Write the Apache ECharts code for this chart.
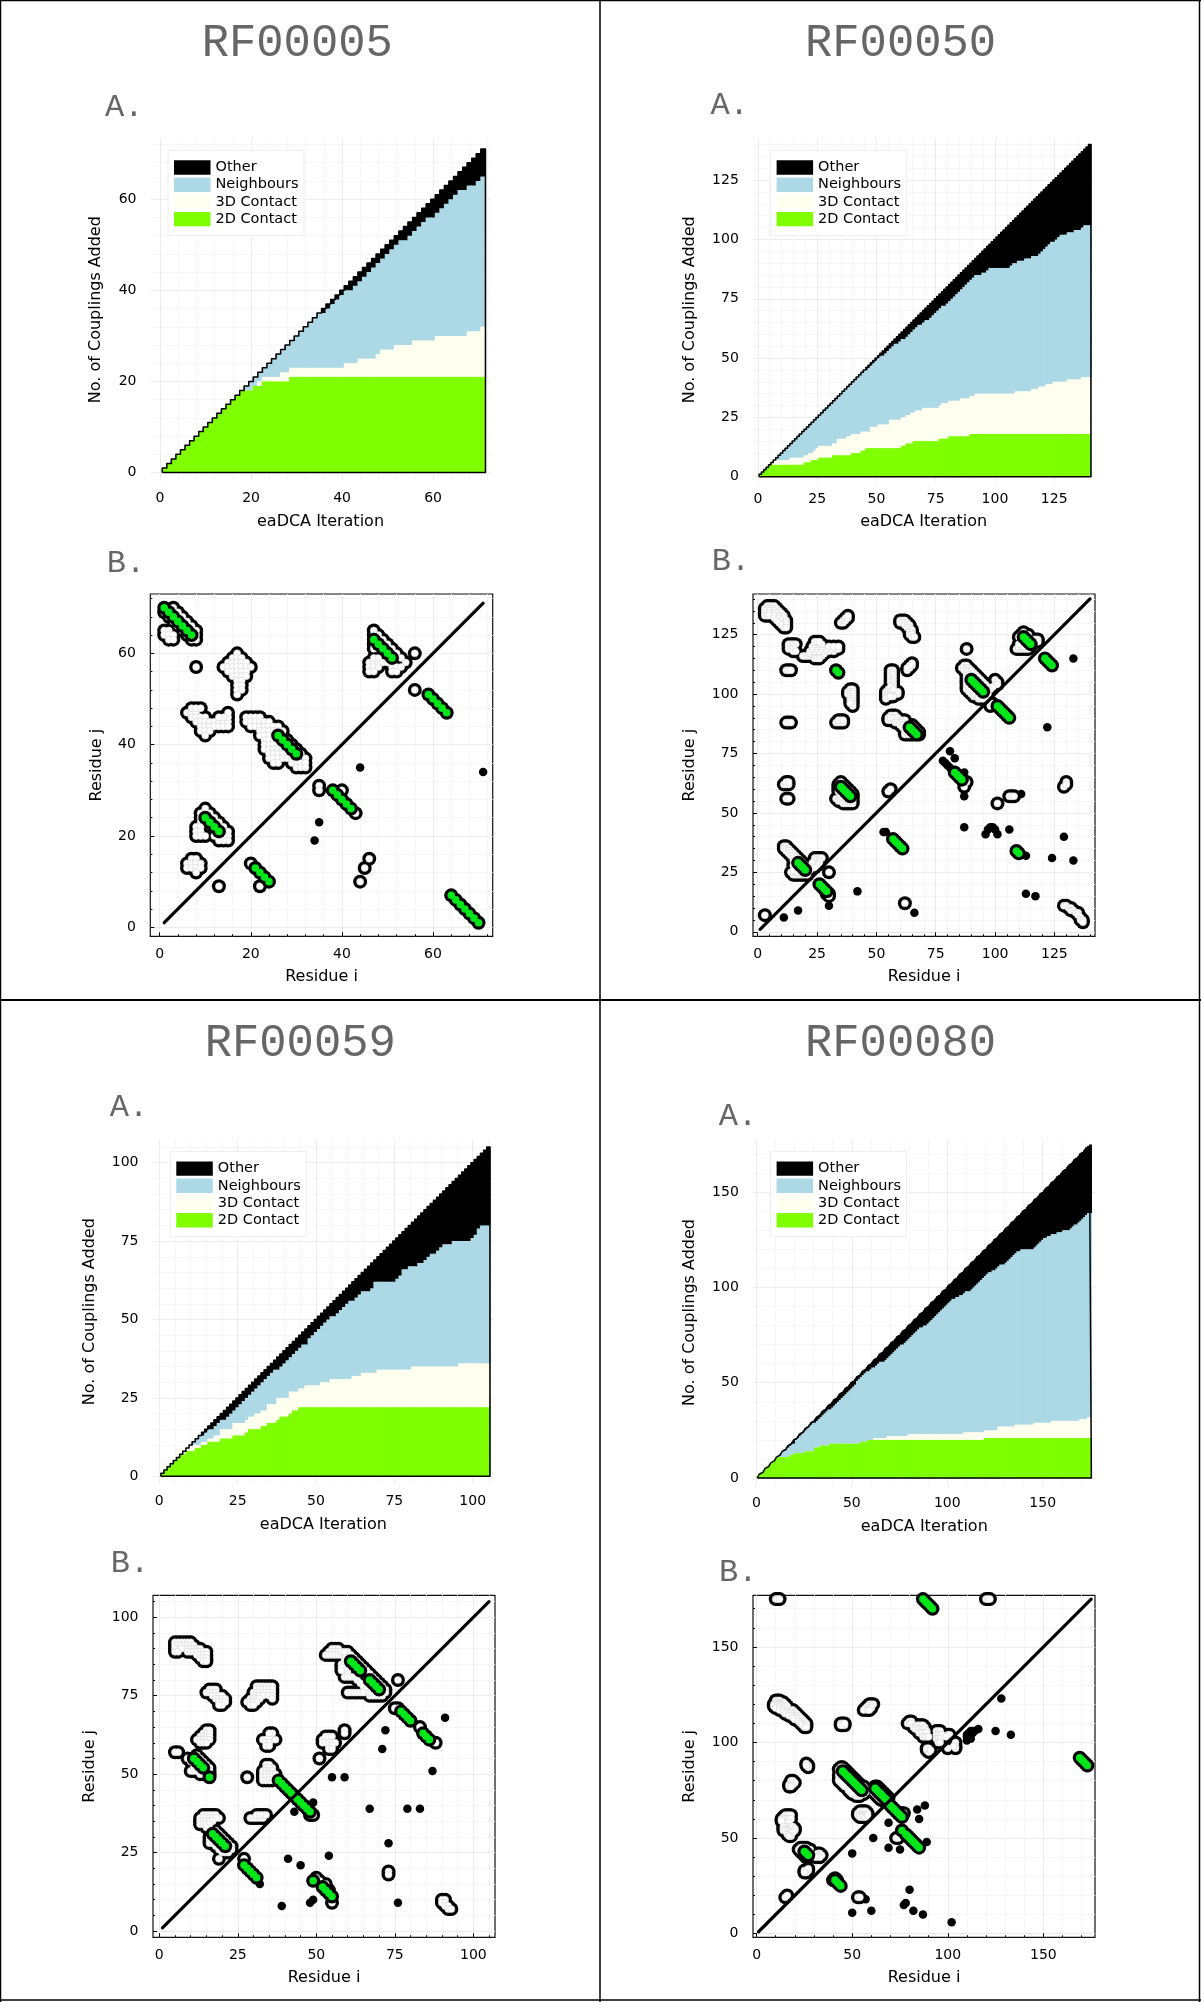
<!DOCTYPE html>
<html><head><meta charset="utf-8">
<style>html,body{margin:0;padding:0;background:#fff}#c{width:1201px;height:2002px}</style>
<script src="https://cdn.jsdelivr.net/npm/echarts@6/dist/echarts.min.js"></script>
</head><body><div id="c"></div>
<script>
// ---------- Panel A: top of each band after every iteration ----------
const rf5Total=[1,2,3,4,5,6,7,8,9,10,11,12,13,14,15,16,17,18,19,20,21,22,23,24,25,26,27,28,29,30,31,32,33,34,35,36,37,38,39,40,41,42,43,44,45,46,47,48,49,50,51,52,53,54,55,56,57,58,59,60,61,62,63,64,65,66,67,68,69,70,71];
const rf5Top2D=[1,2,3,4,5,6,7,8,9,10,11,12,13,14,15,16,17,18,18,18,19,19,20,20,20,20,20,20,21,21,21,21,21,21,21,21,21,21,21,21,21,21,21,21,21,21,21,21,21,21,21,21,21,21,21,21,21,21,21,21,21,21,21,21,21,21,21,21,21,21,21];
const rf5Top3D=[1,2,3,4,5,6,7,8,9,10,11,12,13,14,15,16,17,18,18,18,19,20,21,21,21,21,22,22,23,23,23,23,23,23,23,23,23,23,23,23,24,24,24,25,25,25,25,26,27,27,27,28,28,28,28,29,29,29,29,29,30,30,30,30,30,30,30,31,31,31,32];
const rf5TopNb=[1,2,3,4,5,6,7,8,9,10,11,12,13,14,15,16,17,18,19,20,21,22,23,24,25,26,27,28,29,30,31,32,33,34,35,35,36,37,38,39,40,40,41,42,43,44,45,46,47,48,49,50,51,51,52,53,54,55,56,56,57,58,59,60,61,62,62,63,63,64,65];

const rf50Total=[1,2,3,4,5,6,7,8,9,10,11,12,13,14,15,16,17,18,19,20,21,22,23,24,25,26,27,28,29,30,31,32,33,34,35,36,37,38,39,40,41,42,43,44,45,46,47,48,49,50,51,52,53,54,55,56,57,58,59,60,61,62,63,64,65,66,67,68,69,70,71,72,73,74,75,76,77,78,79,80,81,82,83,84,85,86,87,88,89,90,91,92,93,94,95,96,97,98,99,100,101,102,103,104,105,106,107,108,109,110,111,112,113,114,115,116,117,118,119,120,121,122,123,124,125,126,127,128,129,130,131,132,133,134,135,136,137,138,139,140];
const rf50Top2D=[1,2,3,4,5,5,5,5,5,5,
5,5,5,5,5,5,5,5,5,6,
6,6,7,7,7,8,8,8,8,8,
8,9,9,9,9,9,9,9,9,10,
10,10,10,11,11,12,12,12,12,12,
12,12,12,12,12,12,12,12,12,12,
13,13,14,14,14,15,15,15,15,15,
15,15,15,15,15,15,16,16,16,16,
17,17,17,17,17,17,17,17,17,18,
18,18,18,18,18,18,18,18,18,18,
18,18,18,18,18,18,18,18,18,18,
18,18,18,18,18,18,18,18,18,18,
18,18,18,18,18,18,18,18,18,18,
18,18,18,18,18,18,18,18,18,18];
const rf50Top3D=[1,2,3,4,5,6,7,7,7,7,
7,7,7,8,8,8,8,8,8,9,
9,10,10,11,12,13,13,13,13,13,
13,14,14,16,16,16,16,17,17,18,
18,18,18,19,19,19,19,21,21,21,
22,22,22,22,22,24,24,24,24,24,
25,25,26,26,27,27,28,28,28,29,
29,29,29,29,29,29,30,31,31,31,
32,32,32,32,32,33,33,33,33,34,
34,35,35,35,35,35,35,35,35,35,
35,35,35,35,35,35,35,35,36,36,
36,36,36,36,36,37,37,37,38,38,
38,39,39,39,40,40,40,40,40,40,
41,41,41,41,41,41,42,42,42,42];
const rf50TopNb=[1,2,3,4,5,6,7,8,9,10,11,12,13,14,15,16,17,18,19,20,21,22,23,24,25,26,27,28,29,30,31,32,33,34,35,36,37,38,39,40,41,42,43,44,45,
45,46,47,48,49,50,51,51,52,53,54,55,56,56,57,58,58,59,60,61,62,63,64,64,65,66,66,67,68,69,70,71,72,72,73,74,75,76,77,78,79,80,81,82,83,84,85,85,85,86,86,87,88,88,88,88,88,88,88,88,88,89,90,90,91,91,91,92,92,92,93,93,93,94,95,96,97,98,99,99,100,101,102,102,102,103,103,103,104,104,104,105,106,106,106];

const rf59Total=[1,2,3,4,5,6,7,8,9,10,11,12,13,14,15,16,17,18,19,20,21,22,23,24,25,26,27,28,29,30,31,32,33,34,35,36,37,38,39,40,41,42,43,44,45,46,47,48,49,50,51,52,53,54,55,56,57,58,59,60,61,62,63,64,65,66,67,68,69,70,71,72,73,74,75,76,77,78,79,80,81,82,83,84,85,86,87,88,89,90,91,92,93,94,95,96,97,98,99,100,101,102,103,104,105];
const rf59Top2D=[1,2,3,4,5,6,7,7,8,8,
8,9,9,10,10,11,11,11,11,12,
12,12,12,13,13,13,13,14,15,15,
15,15,16,16,17,17,17,18,19,19,
19,20,21,21,22,22,22,22,22,22,
22,22,22,22,22,22,22,22,22,22,
22,22,22,22,22,22,22,22,22,22,
22,22,22,22,22,22,22,22,22,22,
22,22,22,22,22,22,22,22,22,22,
22,22,22,22,22,22,22,22,22,22,
22,22,22,22,22];
const rf59Top3D=[1,2,3,4,5,6,7,8,9,10,
10,10,10,11,11,12,12,13,13,15,
15,15,15,17,17,17,17,18,19,19,
20,20,21,21,23,23,23,25,25,25,
25,27,27,27,28,28,29,29,29,29,
29,30,30,30,31,31,31,31,31,31,
31,32,32,32,33,33,33,33,33,34,
34,34,34,34,34,34,34,34,34,34,
35,35,35,35,35,35,35,35,35,35,
35,35,35,35,35,36,36,36,36,36,
36,36,36,36,36];
const rf59TopNb=[1,2,3,4,5,6,7,8,9,10,11,12,13,13,14,15,15,16,17,18,18,19,20,21,22,23,24,25,26,27,28,29,30,31,32,33,34,34,35,36,37,38,39,40,41,42,42,44,45,46,47,48,49,50,51,51,52,53,54,55,56,56,57,58,59,59,59,60,62,62,62,62,62,62,62,63,64,66,66,67,67,67,68,68,69,70,71,71,72,73,74,74,74,75,75,75,75,75,75,76,77,79,80,80,80];

const rf80Total=[1,2,3,4,5,6,7,8,9,10,11,12,13,14,15,16,17,18,19,20,21,22,23,24,25,26,27,28,29,30,31,32,33,34,35,36,37,38,39,40,41,42,43,44,45,46,47,48,49,50,51,52,53,54,55,56,57,58,59,60,61,62,63,64,65,66,67,68,69,70,71,72,73,74,75,76,77,78,79,80,81,82,83,84,85,86,87,88,89,90,91,92,93,94,95,96,97,98,99,100,101,102,103,104,105,106,107,108,109,110,111,112,113,114,115,116,117,118,119,120,121,122,123,124,125,126,127,128,129,130,131,132,133,134,135,136,137,138,139,140,141,142,143,144,145,146,147,148,149,150,151,152,153,154,155,156,157,158,159,160,161,162,163,164,165,166,167,168,169,170,171,172,173,174,175];
const rf80Top2D=[1,2,3,4,5,6,7,8,9,10,
11,11,11,11,11,11,11,12,12,13,
13,13,13,13,13,14,14,14,14,14,
16,16,16,17,17,17,17,17,18,18,
18,18,18,18,18,18,18,18,18,18,
18,18,18,18,19,19,19,19,20,20,
20,20,20,20,20,20,20,20,20,20,
20,20,20,20,20,20,20,20,20,20,
20,20,20,20,20,20,20,20,20,20,
20,20,20,20,20,20,20,20,20,20,
20,20,20,20,20,20,20,20,20,20,
20,20,20,20,20,20,20,20,20,21,
21,21,21,21,21,21,21,21,21,21,
21,21,21,21,21,21,21,21,21,21,
21,21,21,21,21,21,21,21,21,21,
21,21,21,21,21,21,21,21,21,21,
21,21,21,21,21,21,21,21,21,21,
21,21,21,21,21];
const rf80Top3D=[1,2,3,4,5,6,7,8,9,10,
11,11,11,11,11,11,11,12,12,13,
13,13,13,13,13,14,14,14,14,14,
16,16,16,17,17,17,17,17,18,18,
18,18,18,18,18,18,18,18,18,18,
18,18,18,18,19,19,19,19,20,20,
20,21,21,21,21,21,21,21,22,22,
22,22,22,22,22,22,22,22,22,23,
23,23,23,23,23,23,23,23,23,23,
23,23,23,23,23,23,23,23,23,23,
23,23,23,23,23,23,23,23,24,24,
24,24,24,24,24,24,24,24,24,25,
25,25,25,25,25,25,27,27,27,27,
27,27,27,27,27,28,28,28,28,28,
28,28,28,28,28,29,29,29,29,29,
29,29,29,29,30,30,30,30,30,30,
30,30,30,30,30,30,30,30,30,31,
31,31,31,32,32];
const rf80TopNb=[1,2,3,4,5,6,7,8,9,10,11,12,13,14,15,
16,16,17,18,18,20,21,22,23,24,25,26,27,28,29,29,30,31,32,33,34,35,36,36,37,38,39,40,41,42,43,44,45,46,47,48,49,51,52,53,54,55,56,56,57,58,58,59,60,61,61,61,62,63,64,65,66,67,68,69,70,70,71,72,73,74,75,76,77,78,79,79,80,80,81,82,83,84,85,86,87,88,89,90,91,92,93,94,94,95,95,96,96,97,98,98,98,99,100,101,102,103,104,105,106,107,108,108,109,109,110,111,112,112,112,113,114,115,116,117,118,119,119,120,120,120,120,120,120,120,121,122,123,124,125,126,126,127,127,128,128,128,129,129,129,130,130,130,130,131,132,133,133,134,135,136,137,138,139,139];

// ---------- Panel B: residue pairs [i, j] ----------
const rf5Green=[[1,70],[2,69],[3,68],[4,67],[5,66],[6,65],[7,64],[64,7],[65,6],[66,5],[67,4],[68,3],[69,2],[70,1],[10,24],[11,23],[12,22],[13,21],[21,13],[22,12],[23,11],[24,10],[26,42],[27,41],[28,40],[29,39],[30,38],[38,30],[39,29],[40,28],[41,27],[42,26],[47,63],[48,62],[49,61],[50,60],[51,59],[59,51],[60,50],[61,49],[62,48],[63,47]];
const rf5White=[[3,70],[4,69],[5,68],[6,67],[7,66],[8,65],[8,64],[1,69],[2,68],[3,67],[4,66],[5,65],[6,64],[7,63],[8,63],[1,65],[2,65],[1,64],[2,64],[3,64],[2,63],[3,63],
[8,57],[17,60],[16,59],[17,59],[18,59],[15,58],[16,58],[17,58],[18,58],[19,58],[14,57],[15,57],[16,57],[17,57],[18,57],[19,57],[20,57],[15,56],[16,56],[17,56],[18,56],[19,56],[16,55],[17,55],[18,55],[19,55],[17,54],[18,54],[17,53],[18,53],[17,52],[18,52],[17,51],
[6,47],[7,47],[8,47],[7,48],[8,48],[9,48],[7,46],[8,46],[9,46],[10,46],[8,45],[9,45],[10,45],[11,45],[12,45],[13,45],[14,45],[15,45],[15,46],[15,47],[14,46],[13,46],[9,44],[10,44],[11,44],[12,44],[13,44],[14,44],[15,44],[9,43],[10,43],[11,43],[10,42],
[19,46],[20,46],[21,46],[22,46],[19,45],[20,45],[21,45],[22,45],[23,45],[24,45],[20,44],[21,44],[22,44],[23,44],[24,44],[25,44],[26,44],[22,43],[23,43],[24,43],[25,43],[26,43],[27,43],[22,42],[23,42],[24,42],[25,42],[27,42],[23,41],[24,41],[25,41],[28,41],[23,40],[24,40],[25,40],[26,40],[29,40],[23,39],[24,39],[25,39],[26,39],[27,39],[30,39],[24,38],[25,38],[26,38],[27,38],[28,38],[31,38],[24,37],[25,37],[26,37],[27,37],[28,37],[29,37],[32,37],[25,36],[26,36],[29,36],[30,36],[31,36],[32,36],[30,35],[31,35],[32,35],
[47,65],[48,64],[47,64],[49,63],[50,62],[51,61],[52,60],[53,59],[54,58],[47,62],[48,61],[49,60],[50,59],[47,61],[46,58],[47,58],[48,58],[46,57],[47,57],[48,57],[46,56],[47,56],[47,59],[48,59],[49,58],[50,58],[51,57],[52,57],[53,57],[51,56],[52,56],[56,60],[56,52],
[10,26],[11,25],[12,24],[13,23],[14,22],[15,21],[15,20],[15,19],[14,20],[14,19],[13,19],[12,20],[9,25],[9,24],[10,23],[9,23],[8,22],[9,22],[8,21],[9,21],[8,20],[9,20],[10,20],
[7,15],[8,15],[6,14],[7,14],[8,14],[9,14],[6,13],[7,13],[8,13],[9,13],[8,12],
[13,9],[20,14],[22,9],[44,10],[45,13],[46,15],[35,31],[35,30],[40,30],[43,25]];
const rf5Other=[[44,35],[71,34],[35,23],[34,19]];

const rf50Green=[[33,110],[34,109],[110,33],[109,34],[90,106],[91,105],[92,104],[93,103],[94,102],[95,101],[101,95],[102,94],[103,93],[104,92],[105,91],[106,90],[112,124],[113,123],[114,122],[115,121],[121,115],[122,114],[123,113],[124,112],[64,86],[65,85],[66,84],[67,83],[83,67],[84,66],[85,65],[86,64],[35,61],[36,60],[37,59],[38,58],[39,57],[57,39],[58,38],[59,37],[60,36],[61,35],[17,29],[18,28],[19,27],[20,26],[26,20],[27,19],[28,18],[29,17]];
const rf50White=[[4,137],[5,137],[6,137],[7,137],[3,136],[4,136],[5,136],[6,136],[7,136],[8,136],[3,135],[5,135],[7,135],[9,135],[3,134],[5,134],[7,134],[8,134],[10,134],[3,133],[4,133],[5,133],[7,133],[9,133],[11,133],[7,132],[9,132],[11,132],[8,131],[10,131],[12,131],[9,130],[11,130],[12,130],[10,129],[12,129],[11,128],[12,128],
[13,121],[14,121],[15,121],[16,121],[13,120],[15,120],[13,119],[14,119],[15,119],[15,118],[16,118],
[19,116],[20,116],[21,116],[22,116],[23,116],[24,116],[25,116],[26,116],[27,116],[22,117],[24,117],[26,117],[28,117],[24,115],[25,115],[26,115],[22,118],[24,118],[26,118],[28,118],[30,118],[32,118],[23,119],[25,119],[27,119],[29,119],[31,119],[33,119],[34,119],[23,120],[25,120],[27,120],[30,120],[32,120],[34,120],[24,121],[26,121],[27,121],[24,122],[25,122],[26,122],
[35,130],[36,130],[36,131],[37,131],[37,132],[38,132],[38,133],
[60,131],[61,131],[62,131],[60,130],[61,130],[62,130],[63,130],[62,129],[63,129],[64,129],[63,128],[64,128],[64,127],[65,127],[64,126],[65,126],[64,125],[65,125],[65,124],[66,124],
[63,110],[64,111],[65,112],[65,113],[64,112],[63,111],
[56,110],[57,110],[56,109],[57,109],[56,108],[57,108],[56,107],[57,107],[56,106],[57,106],[56,105],[57,105],[57,104],[57,103],
[54,101],[54,100],[54,99],[54,98],[55,102],[55,101],[55,100],[55,99],[56,103],[56,101],[56,100],[57,100],[58,100],[59,100],[58,101],[59,101],[57,99],[56,99],[57,102],
[39,102],[40,102],[38,101],[39,101],[40,101],[38,100],[39,100],[40,100],[39,99],[40,99],[39,98],[40,98],[40,97],[40,96],[40,95],[39,97],[39,96],
[12,110],[13,110],[14,110],[12,88],[13,88],[14,88],[33,88],[34,88],[35,88],[36,88],[34,89],[35,89],[36,89],[11,62],[12,62],[13,62],[12,63],[13,63],[12,56],[13,56],
[33,56],[34,56],[35,56],[36,56],[34,55],[35,55],[36,55],[37,55],[36,54],[37,54],[38,54],[39,54],[40,54],[38,55],[39,55],[40,55],[40,56],[40,57],[36,58],[36,57],[37,57],[38,56],[35,57],[35,58],[35,63],[36,62],[37,61],[38,60],[39,59],[40,58],[34,62],[34,61],[34,60],[34,59],
[55,59],[56,60],[3,7],
[11,36],[12,36],[12,35],[13,35],[14,34],[15,33],[16,32],[17,31],[18,30],[19,29],[20,28],[21,27],[22,26],[11,35],[12,34],[13,34],[13,33],[14,33],[14,32],[15,32],[15,31],[16,31],[16,30],[15,30],[16,29],[15,28],[14,25],[15,24],[15,25],[16,24],[16,25],[17,24],[18,24],[19,24],[20,24],[21,25],[21,24],[16,26],[16,27],[15,26],[17,26],[17,25],[18,25],[19,25],[20,25],
[24,31],[25,31],[26,31],[27,31],[25,30],[26,30],[24,30],[25,29],[26,29],[24,28],[25,28],[22,27],[23,27],[23,28],[23,29],[24,27],
[30,25],[30,15],[29,16],[30,16],[62,12],
[129,11],[130,11],[131,10],[132,10],[132,9],[133,9],[134,8],[135,8],[135,7],[136,6],[136,5],[137,5],[137,4],
[130,63],[129,61],[130,62],[101,54],[106,57],[107,57],[108,57],[88,119],
[86,111],[87,112],[88,112],[87,111],[88,111],[89,111],[87,110],[88,110],[89,110],[90,110],[91,109],[92,108],[93,107],[94,106],[95,105],[96,104],[97,103],[98,102],[88,109],[88,108],[88,107],[88,106],[88,105],[88,104],[88,103],[88,102],[89,102],[89,101],[90,100],[91,99],[92,99],[93,98],[94,98],[95,98],[96,99],[97,100],[89,104],[89,103],[90,103],[90,102],[91,101],[91,100],[92,100],[93,99],[89,108],[89,107],[89,106],[89,105],
[100,106],[101,105],[100,104],[101,104],[99,103],[98,95],[99,96],
[111,125],[112,125],[113,125],[110,124],[111,124],[112,126],[114,125],[109,119],[110,119],[111,119],[112,119],[113,119],[114,119],[110,120],[111,120],[111,121],[112,120],[110,121],[116,123],[117,123],[118,123],[116,122],[118,122],[115,120],[114,120],
[55,90],[56,91],[57,91],[58,91],[55,89],[56,89],[56,90],[57,90],[58,90],[59,90],[60,89],[61,89],[62,89],[58,88],[59,88],[60,88],[61,88],[60,87],[61,87],[62,87],[61,86],[62,86],[62,85],[62,84],[62,83],[63,83],[64,83],[65,83],[66,83],[63,84],[65,87],[66,86],[67,85],[68,84],[68,83],[64,87],
[87,61],[88,63]];
const rf50Other=[[78,72],[79,71],[80,70],[81,69],[82,68],[81,76],[83,73],[87,67],[87,57],[87,44],[122,86],[133,115],[129,40],[124,31],[133,30],[113,16],[117,15],[113,32],[106,43],[101,41],[100,43],[98,44],[97,43],[99,44],[96,41],[30,11],[66,8],[42,17],[17,9],[11,6],[53,42],[54,42],[111,58]];

const rf59Green=[[61,86],[62,85],[63,84],[64,83],[67,80],[68,79],[69,78],[70,77],[11,55],[12,54],[13,53],[14,52],[16,49],[38,48],[39,47],[40,46],[41,45],[42,44],[43,43],[44,42],[45,41],[46,40],[47,39],[48,38],[17,31],[18,30],[19,29],[20,28],[21,27],[27,21],[28,20],[29,19],[30,18],[31,17],[49,16],[52,14],[53,13],[54,12],[55,11],[77,70],[78,69],[79,68],[80,67],[84,63],[85,62],[86,61]];
const rf59White=[[5,92],[6,92],[7,92],[8,92],[9,92],[10,92],[5,91],[6,91],[7,91],[8,91],[9,91],[10,91],[11,91],[5,90],[7,90],[9,90],[10,90],[11,90],[12,90],[13,90],[5,89],[6,89],[9,89],[10,89],[11,89],[12,89],[13,89],[14,89],[15,89],[12,88],[13,88],[14,88],[15,88],[13,87],[14,87],[15,87],[14,86],[15,86],
[16,77],[17,77],[18,77],[15,76],[16,76],[17,76],[18,76],[17,75],[18,75],[19,75],[20,75],[18,74],[19,74],[20,74],[21,74],[19,73],[20,73],[21,73],[20,72],[19,72],
[31,78],[32,78],[33,78],[34,78],[35,78],[36,78],[31,77],[32,77],[33,77],[34,77],[35,77],[36,77],[30,76],[31,76],[32,76],[33,76],[34,76],[35,76],[36,76],[30,75],[31,75],[32,75],[33,75],[35,75],[36,75],[29,74],[30,74],[31,74],[32,74],[36,74],[28,73],[29,73],[30,73],[31,73],[29,72],[30,72],
[15,64],[16,64],[14,63],[15,63],[16,63],[13,62],[14,62],[15,62],[16,62],[12,61],[13,61],[14,61],[15,61],[16,61],[13,60],[14,60],[15,60],
[5,57],[6,57],[9,55],[10,54],[12,56],[13,55],[14,54],[15,53],[16,52],[16,51],[16,50],[15,50],[14,50],[13,50],[12,51],[11,51],[10,51],[11,52],[12,52],
[33,61],[34,61],[35,61],[36,61],[35,62],[36,63],[35,63],[34,60],[35,60],[37,61],[34,59],[35,59],[28,49],
[34,53],[35,53],[36,52],[34,52],[35,52],[33,51],[34,51],[35,51],[36,51],[33,50],[34,50],[35,50],[36,50],[37,50],[33,49],[34,49],[35,49],[36,49],[37,49],[33,48],[34,48],[35,48],[36,48],
[51,55],[52,61],[53,62],[54,62],[55,62],[52,60],[53,60],[54,60],[55,60],[56,60],[54,59],[55,59],[54,58],[55,58],[59,64],[59,63],
[55,90],[56,90],[57,90],[54,89],[55,89],[56,89],[57,89],[53,88],[54,88],[55,88],[56,88],[57,88],[58,88],[59,88],[60,89],[58,89],[59,89],[61,88],[62,87],[63,86],[64,85],[65,84],[66,83],[67,82],[68,81],[69,80],[70,79],[71,78],[72,77],[72,76],[71,76],[71,75],[70,75],[69,75],[68,75],[67,75],[66,76],[59,87],[59,86],[58,85],[59,85],[59,84],[58,84],[59,83],[58,83],[60,83],[60,82],[59,81],[60,81],[61,81],[62,81],[63,80],[64,79],[65,78],[66,77],[60,76],[61,76],[62,76],[63,76],[64,76],[65,76],[67,76],
[76,80],[75,71],[76,71],[88,60],[83,65],
[14,37],[15,37],[16,37],[17,37],[18,37],[19,36],[13,36],[14,36],[15,36],[16,36],[17,36],[18,36],[13,35],[14,35],[15,35],[16,35],[17,35],[13,34],[14,34],[15,34],[16,34],[15,33],
[29,36],[30,36],[31,36],[32,36],[33,36],[31,37],[32,37],[33,37],[34,37],
[18,32],[19,31],[20,30],[21,29],[22,28],[23,27],[16,30],[16,29],[16,28],[17,28],[18,27],[19,26],[20,25],[21,25],[22,25],[23,26],[17,29],
[19,23],[27,23],[55,9],[50,17],[51,16],[52,15],[53,15],[54,13],[73,19],[73,18],[90,10],[91,10],[90,9],[91,9],[91,8],[92,8],[92,7],[93,7],[49,37],[48,37]];
const rf59Other=[[91,68],[72,64],[71,58],[87,51],[55,49],[59,49],[67,39],[79,39],[83,39],[73,28],[54,24],[41,23],[45,21],[39,8],[48,9],[49,10],[76,9],[43,38],[49,41],[32,15]];

const rf80Green=[[88,174],[89,173],[90,172],[91,171],[92,170],[87,175],[169,92],[170,91],[171,90],[172,89],[173,88],[45,85],[46,84],[47,83],[48,82],[49,81],[50,80],[51,79],[52,78],[53,77],[54,76],[55,75],[62,76],[63,75],[64,74],[65,73],[66,72],[67,71],[68,70],[70,67],[71,66],[72,65],[73,64],[74,63],[75,62],[76,61],[76,54],[78,52],[79,51],[80,50],[81,49],[82,48],[83,47],[84,46],[85,45],[25,43],[26,42],[27,41],[41,28],[42,27],[43,26],[44,25]];
const rf80White=[[10,175],[11,175],[12,175],[120,175],[121,175],[122,175],
[10,122],[11,122],[12,122],[10,121],[11,121],[12,121],[13,121],[14,121],[9,120],[10,120],[11,120],[12,120],[13,120],[14,120],[15,120],[9,119],[11,119],[13,119],[15,119],[16,119],[10,118],[12,118],[14,118],[16,118],[12,117],[14,117],[16,117],[18,117],[19,117],[14,116],[16,116],[18,116],[20,116],[15,115],[17,115],[19,115],[21,115],[17,114],[19,114],[21,114],[22,114],[19,113],[21,113],[23,113],[20,112],[22,112],[24,112],[22,111],[24,111],[25,111],[23,110],[25,110],[26,110],[24,109],[26,109],[25,108],[26,108],
[59,120],[60,120],[61,120],[58,119],[60,119],[57,118],[59,118],[60,118],[56,117],[58,117],[59,117],[44,110],[45,110],[46,109],[44,109],[45,109],[46,110],
[80,111],[79,110],[80,110],[81,111],[81,110],[82,108],[83,108],[83,107],[84,109],[85,109],[86,109],[87,109],[88,108],[84,107],[85,107],[86,107],[87,107],[88,107],[89,106],[85,105],[86,105],[87,105],[88,105],[89,105],[87,103],[88,103],[89,103],[90,103],[94,106],[95,106],[96,106],[94,104],[95,104],[96,104],[97,104],[94,102],[95,102],[96,102],[95,100],[96,100],[100,104],[101,104],[99,103],[89,97],[90,97],[89,96],[90,95],[91,96],
[104,100],[104,98],[104,97],[103,98],[100,97],[26,89],[27,88],[27,87],[26,88],[18,80],[19,80],[20,79],[17,78],[18,78],[19,78],[17,77],[18,77],
[13,60],[14,61],[15,62],[16,62],[17,62],[18,62],[14,60],[15,60],[16,60],[17,60],[18,60],[14,58],[15,58],[16,58],[17,58],[13,59],[15,56],[16,56],[17,56],[18,56],[14,56],[14,55],[14,54],[15,54],[16,54],[17,54],[18,54],[19,55],[19,56],[20,55],[20,54],[16,52],[17,52],[18,52],[19,53],[18,51],[17,51],
[22,44],[23,45],[24,45],[25,45],[26,45],[27,44],[28,44],[23,43],[24,42],[25,41],[26,40],[31,41],[32,42],[33,42],[33,41],[34,41],[33,40],[31,40],[25,33],[26,33],[27,33],[26,32],[27,34],[25,32],[15,19],[16,20],[40,28],[41,29],[42,28],[53,19],[54,19],
[44,87],[43,86],[44,86],[45,87],[46,86],[47,85],[48,84],[49,83],[50,82],[51,81],[52,80],[53,79],[54,78],[55,77],[56,77],[57,76],[57,75],[57,74],[56,73],[55,73],[54,72],[53,72],[52,72],[51,73],[50,74],[49,75],[48,76],[47,77],[45,80],[46,79],[44,82],[43,81],[43,80],[44,79],[45,78],[46,77],[48,75],[49,74],[50,73],[43,83],[44,83],
[53,63],[54,64],[55,64],[56,64],[57,64],[58,63],[53,62],[54,62],[55,62],[56,62],[57,62],[54,61],[55,61],[56,61],[57,61],[58,62],
[62,77],[63,77],[64,76],[65,75],[66,74],[67,73],[68,72],[69,71],[61,75],[61,74],[62,73],[63,72],[64,71],[65,70],[66,70],[67,69],[73,50],[74,50],[76,63],[77,63]];
const rf80Other=[[128,123],[125,106],[133,104],[116,107],[112,106],[113,106],[111,105],[110,101],[112,102],[110,103],[110,104],[111,103],[113,105],[114,106],[84,65],[88,67],[85,60],[69,58],[61,50],[69,45],[75,44],[72,50],[50,42],[89,48],[57,18],[60,12],[50,11],[80,23],[77,15],[78,16],[82,12],[87,10],[102,6]];

// ---------- Text, ticks ----------
const legendNames=['Other','Neighbours','3D Contact','2D Contact'];
const bandColors={'Other':'#000000','Neighbours':'#add8e6','3D Contact':'#fffff0','2D Contact':'#7fff00'};
const titles=['RF00005','RF00050','RF00059','RF00080'];
const majors5=[0,20,40,60], minors5=[4,8,12,16,24,28,32,36,44,48,52,56,64,68,72];
const majors50=[0,25,50,75,100,125], minors50=[5,10,15,20,30,35,40,45,55,60,65,70,80,85,90,95,105,110,115,120,130,135,140];
const majors59=[0,25,50,75,100], minors59=[5,10,15,20,30,35,40,45,55,60,65,70,80,85,90,95,105];
const majors80=[0,50,100,150], minors80=[10,20,30,40,60,70,80,90,110,120,130,140,160,170];

const panels=[
 {title:[201.7,21],aL:[105,92],bL:[106.7,548],
  gA:[151,490,138.6,480.7],xA:[-1.98,72.5],yA:[-1.78,73.3],
  gB:[150.3,492.7,594,936.3],xB:[-2.06,73.1],yB:[-1.97,73],legend:[168,150.4],gapA:47,gapB:45.5,
  total:rf5Total,t2:rf5Top2D,t3:rf5Top3D,tn:rf5TopNb,green:rf5Green,white:rf5White,other:rf5Other,major:majors5,minor:minors5},
 {title:[805,21],aL:[710.4,90],bL:[711.7,546],
  gA:[753.3,1094,138.6,481],xA:[-1.94,141.8],yA:[-1.81,142.5],
  gB:[753,1095,594,936.3],xB:[-2,142.1],yB:[-1.9,142.1],legend:[770.6,150.4],gapA:55,gapB:55,
  total:rf50Total,t2:rf50Top2D,t3:rf50Top3D,tn:rf50TopNb,green:rf50Green,white:rf50White,other:rf50Other,major:majors50,minor:minors50},
 {title:[204.7,1021],aL:[109.8,1092],bL:[110.7,1548],
  gA:[153,493.7,1139.5,1483.8],xA:[-2,106.7],yA:[-2.4,107.4],
  gB:[153,495,1595.3,1937.3],xB:[-2,106.9],yB:[-2,107],legend:[170.3,1151.5],gapA:55,gapB:55,
  total:rf59Total,t2:rf59Top2D,t3:rf59Top3D,tn:rf59TopNb,green:rf59Green,white:rf59White,other:rf59Other,major:majors59,minor:minors59},
 {title:[805,1021],aL:[718.8,1101],bL:[719,1557],
  gA:[753.3,1095.2,1139.5,1485.5],xA:[-1.6,177.5],yA:[-3.9,177.6],
  gB:[753,1095,1595.3,1937.3],xB:[-1.9,177],yB:[-1.9,177],legend:[770.6,1151.5],gapA:55,gapB:55,
  total:rf80Total,t2:rf80Top2D,t3:rf80Top3D,tn:rf80TopNb,green:rf80Green,white:rf80White,other:rf80Other,major:majors80,minor:minors80}
];

const SANS='DejaVu Sans', MONO='Liberation Mono';
const option={animation:false,backgroundColor:'#fff',title:[],grid:[],xAxis:[],yAxis:[],legend:[],series:[],graphic:[]};

function addAxes(gi,xr,yr,major,minor,framed,xName,yName,gapY){
  const idx=option.xAxis.length;
  const mk=(r,name,gap,pos,nameRot)=>[{
    gridIndex:gi,type:'value',min:r[0],max:r[1],position:pos,name:name,nameLocation:'middle',nameGap:gap,nameRotate:nameRot,
    nameTextStyle:{fontFamily:SANS,fontSize:16,color:'#000'},
    axisLine:{show:false,onZero:false},
    axisTick:{show:framed,inside:true,length:4,customValues:major,lineStyle:{color:'#000',width:1}},
    axisLabel:{customValues:major,margin:pos==='bottom'?11:14.5,fontFamily:SANS,fontSize:14,color:'#000',hideOverlap:false},
    splitLine:{show:true,lineStyle:{color:'#ececec',width:1}}
  },{
    gridIndex:gi,type:'value',min:r[0],max:r[1],position:pos,
    axisLine:{show:false,onZero:false},
    axisTick:{show:framed,inside:true,length:2,customValues:minor,lineStyle:{color:'#000',width:1}},
    axisLabel:{show:false},
    splitLine:{show:true,lineStyle:{color:'#f6f6f6',width:1}}
  }];
  option.xAxis.push(...mk(xr,xName,33,'bottom',0));
  option.yAxis.push(...mk(yr,yName,gapY,'left',90));
  return idx;
}

panels.forEach((p,k)=>{
  option.title.push({text:titles[k],left:p.title[0],top:p.title[1],padding:0,textStyle:{fontFamily:MONO,fontSize:45.5,fontWeight:'normal',color:'#666'}});
  option.title.push({text:'A.',left:p.aL[0],top:p.aL[1],padding:0,textStyle:{fontFamily:MONO,fontSize:32,fontWeight:'normal',color:'#666'}});
  option.title.push({text:'B.',left:p.bL[0],top:p.bL[1],padding:0,textStyle:{fontFamily:MONO,fontSize:32,fontWeight:'normal',color:'#666'}});

  // ---- panel A: bands drawn back to front, each bar reaching the top of its band
  const ga=option.grid.length;
  option.grid.push({left:p.gA[0],top:p.gA[2],width:p.gA[1]-p.gA[0],height:p.gA[3]-p.gA[2],show:false});
  const ax=addAxes(ga,p.xA,p.yA,p.major,p.minor,false,'eaDCA Iteration','No. of Couplings Added',p.gapA);
  const N=p.total.length;
  const unitPx=(p.gA[1]-p.gA[0])/(p.xA[1]-p.xA[0]);
  [['Other',p.total],['Neighbours',p.tn],['3D Contact',p.t3],['2D Contact',p.t2]].forEach(b=>{
    option.series.push({type:'bar',name:b[0],xAxisIndex:ax,yAxisIndex:ax,barWidth:unitPx+1.2,barGap:'-100%',data:b[1].map((v,i)=>[i+1,v]),
      itemStyle:{color:bandColors[b[0]],borderWidth:0},silent:true});
  });
  const outline=[[0.5,0]];
  p.total.forEach((v,i)=>{outline.push([i+0.5,v]);outline.push([i+1.5,v]);});
  outline.push([N+0.5,0]);outline.push([0.5,0]);
  option.series.push({type:'line',name:'outline',xAxisIndex:ax,yAxisIndex:ax,data:outline,showSymbol:false,symbol:'none',silent:true,
    lineStyle:{color:'#000',width:1.5,join:'round'},z:3});
  option.legend.push({left:p.legend[0],top:p.legend[1],orient:'vertical',align:'left',data:legendNames,selectedMode:false,icon:'rect',
    itemWidth:36.5,itemHeight:14.4,itemGap:2.2,padding:[9.6,5.5,9,6],backgroundColor:'#fff',borderColor:'#eee',borderWidth:1,
    textStyle:{fontFamily:SANS,fontSize:14.5,color:'#000',lineHeight:14.4}});

  // ---- panel B
  const gb=option.grid.length;
  option.grid.push({left:p.gB[0],top:p.gB[2],width:p.gB[1]-p.gB[0],height:p.gB[3]-p.gB[2],show:true,borderColor:'#111',borderWidth:1.2,backgroundColor:'transparent'});
  const bx=addAxes(gb,p.xB,p.yB,p.major,p.minor,true,'Residue i','Residue j',p.gapB);
  const sc=(name,data,size,style)=>option.series.push({type:'scatter',name:name,xAxisIndex:bx,yAxisIndex:bx,data:data,symbol:'circle',symbolSize:size,itemStyle:Object.assign({opacity:1},style),silent:true});
  sc('other',p.other,8.5,{color:'#000'});
  sc('whiteEdge',p.white,14,{color:'#000'});
  sc('white',p.white,7,{color:'#fff',borderColor:'#d4d4d4',borderWidth:0.6});
  sc('greenEdge',p.green,14,{color:'#000'});
  sc('green',p.green,7.6,{color:'#00e61a'});
  option.series.push({type:'line',name:'diagonal',xAxisIndex:bx,yAxisIndex:bx,data:[[1,1],[N,N]],showSymbol:false,symbol:'none',silent:true,
    lineStyle:{color:'#000',width:3.2,cap:'round'},z:4});
});

// panel separators
const W=1201,H=2002;
[[0.5,0,0.5,H,1.5],[1199.5,0,1199.5,H,1.5],[600,0,600,H,1.5],[0,0.5,W,0.5,1.5],[0,1000,W,1000,2],[0,2000,W,2000,1.5]].forEach(l=>{
  option.graphic.push({type:'line',silent:true,z:10,shape:{x1:l[0],y1:l[1],x2:l[2],y2:l[3]},style:{stroke:'#000',lineWidth:l[4]}});
});

echarts.init(document.getElementById('c'),null,{renderer:'canvas'}).setOption(option);
</script></body></html>
